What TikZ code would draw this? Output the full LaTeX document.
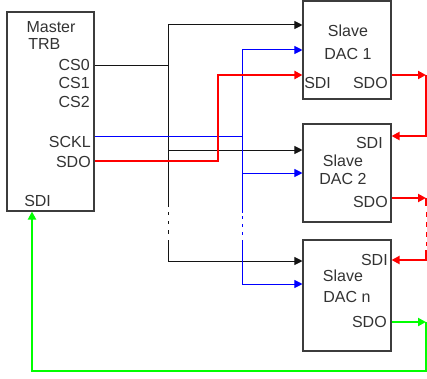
\documentclass[tikz,border=0pt]{standalone}
\usepackage{fontspec}
\setmainfont{Liberation Sans}
\usetikzlibrary{arrows.meta}
\definecolor{boxgray}{RGB}{60,60,60}
\definecolor{pinred}{RGB}{255,0,0}
\definecolor{pinblue}{RGB}{0,0,255}
\definecolor{pingreen}{RGB}{0,255,0}
\definecolor{pinblack}{RGB}{20,20,20}
\begin{document}
\begin{tikzpicture}[x=0.75pt,y=-0.75pt,
  font=\fontsize{12}{14}\selectfont,
  box/.style={draw=boxgray, line width=0.8pt, inner sep=0pt, fill=white},
  lbl/.style={inner sep=0pt, text=black!80},
  blk/.style={draw=pinblack, line width=0.75pt},
  blu/.style={draw=pinblue, line width=0.75pt},
  rd/.style={draw=pinred, line width=1.6pt},
  rdthin/.style={draw=pinred, line width=0.75pt},
  grn/.style={draw=pingreen, line width=1.5pt},
  tip/.style={-{Triangle[length=6pt,width=6pt]}}]
\useasboundingbox (0,0) rectangle (427,378);

% boxes
\node[box, minimum width=87*0.75pt, minimum height=199*0.75pt] (master) at (50.5,111.5) {};
\node[box, minimum width=88*0.75pt, minimum height=98*0.75pt] (dac1) at (347,50) {};
\node[box, minimum width=88*0.75pt, minimum height=98*0.75pt] (dac2) at (347,173) {};
\node[box, minimum width=88*0.75pt, minimum height=111*0.75pt] (dacn) at (347,295.5) {};

% master labels
\node[lbl] (mname) at (51,27) {Master};
\node[lbl, anchor=west] (mtrb) at (28,44) {TRB};
\node[lbl, anchor=east] (cs0) at (90,65) {CS0};
\node[lbl, anchor=east] (cs1) at (90,83) {CS1};
\node[lbl, anchor=east] (cs2) at (90,102) {CS2};
\node[lbl, anchor=east] (sckl) at (91,142) {SCKL};
\node[lbl, anchor=east] (msdo) at (91,162) {SDO};
\node[lbl, anchor=west] (msdi) at (24,201) {SDI};

% DAC 1 labels
\node[lbl] (s1) at (348,31) {Slave};
\node[lbl] (d1) at (348,54) {DAC 1};
\node[lbl, anchor=west] (sdi1) at (304,83) {SDI};
\node[lbl, anchor=east] (sdo1) at (388,83) {SDO};

% DAC 2 labels
\node[lbl, anchor=east] (sdi2) at (383,143) {SDI};
\node[lbl] (s2) at (343,161) {Slave};
\node[lbl] (d2) at (343,179) {DAC 2};
\node[lbl, anchor=east] (sdo2) at (388,202) {SDO};

% DAC n labels
\node[lbl, anchor=east] (sdin) at (388,260) {SDI};
\node[lbl] (sn) at (343,276) {Slave};
\node[lbl] (dn) at (347,297) {DAC n};
\node[lbl, anchor=east] (sdon) at (387,322) {SDO};

% black chip-select bus
\draw[blk] (master.east |- 0,65) -- (168,65);
\draw[blk,tip] (168,207) -- (168,25) -- (dac1.west |- 0,25);
\draw[blk,tip] (168,150) -- (dac2.west |- 0,150);
\draw[blk] (168,212) -- (168,215) (168,221) -- (168,224) (168,230) -- (168,234);
\draw[blk,tip] (168,240) -- (168,261) -- (dacn.west |- 0,261);

% blue clock bus
\draw[blu] (master.east |- 0,136) -- (242,136);
\draw[blu,tip] (242,213) -- (242,50) -- (dac1.west |- 0,50);
\draw[blu,tip] (242,173) -- (dac2.west |- 0,173);
\draw[blu] (242,216) -- (242,219) (242,224) -- (242,227) (242,232) -- (242,235);
\draw[blu,tip] (242,240) -- (242,284) -- (dacn.west |- 0,284);

% red data chain
\draw[rd,tip] (master.east |- 0,161) -- (218,161) -- (218,75) -- (dac1.west |- 0,75);
\draw[rd,tip] (dac1.east |- 0,75) -- (426,75);
\draw[rd,tip] (426,75) -- (426,136) -- (dac2.east |- 0,136);
\draw[rd,tip] (dac2.east |- 0,198) -- (426,198);
\draw[rd] (426,198) -- (426,206);
\draw[rdthin] (426,212) -- (426,217) (426,222) -- (426,227) (426,232) -- (426,237) (426,242) -- (426,246);
\draw[rd,tip] (426,250) -- (426,260) -- (dacn.east |- 0,260);

% green return
\draw[grn,tip] (dacn.east |- 0,322) -- (426,322);
\draw[grn,tip] (426,322) -- (426,371) -- (32,371) -- (master.south -| 32,0);
\end{tikzpicture}
\end{document}
